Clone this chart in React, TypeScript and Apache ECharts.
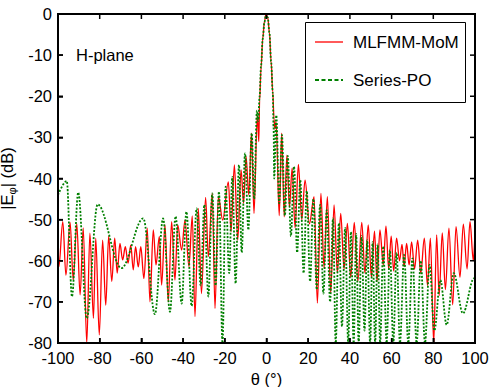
import React, { useEffect, useRef } from "react";
import * as echarts from "echarts";

const xTicks = [-100, -80, -60, -40, -20, 0, 20, 40, 60, 80, 100];
const yTicks = [-80, -70, -60, -50, -40, -30, -20, -10, 0];

// MLFMM-MoM (red) : theta (deg), |E| (dB)
const momTheta = [
  -100, -99.6, -97.7, -96.2, -94.2, -92.7, -91.0, -89.4, -87.9, -86.2, -84.7, -83.0, -81.9, -80.2,
  -78.6, -77.1, -75.7, -74.2, -72.8, -71.6, -70.3, -69.0, -67.7, -66.4, -65.1, -63.9, -62.8, -61.5,
  -60.3, -58.8, -57.2, -55.9, -54.3, -53.0, -51.4, -50.3, -48.7, -47.1, -45.5, -43.9, -42.6, -40.7,
  -39.1, -37.2, -35.6, -34.3, -32.7, -31.2, -29.2, -27.9, -26.0, -24.7, -23.1, -21.0, -18.3, -17.0,
  -15.4, -13.8, -12.2, -11.0, -9.8, -8.5, -7.2, -6.0, -4.4, -3.7, -3.3, -2.6, -1.8, -1.0, -0.2, 0.6,
  1.4, 2.2, 3.0, 3.6, 4.0, 4.6, 6.1, 7.3, 8.5, 9.8, 11.0, 12.3, 13.7, 15.3, 16.9, 18.5, 20.6, 22.8,
  24.4, 26.1, 27.6, 29.2, 30.8, 32.4, 34.0, 35.6, 37.2, 38.8, 40.4, 42.1, 43.8, 45.7, 47.2, 48.8,
  50.3, 51.8, 53.0, 54.4, 56.0, 57.3, 58.6, 59.8, 61.0, 62.4, 63.8, 65.0, 66.0, 67.2, 68.4, 69.6,
  71.0, 72.5, 74.0, 75.7, 77.2, 78.6, 80.2, 81.6, 82.8, 84.3, 85.8, 87.5, 89.3, 90.9, 92.8, 94.4,
  96.2, 97.6, 99.2, 100,
];
const momDb = [
  -55, -61.5, -50.5, -63.5, -50.7, -64.7, -51, -68.3, -52, -80, -53.3, -74, -54.5, -78,
  -55, -70.8, -54, -65, -54.5, -63, -55.8, -59.8, -56.6, -60.6, -56.2, -62.2, -56.6, -61.5,
  -56.6, -64.3, -52.1, -70, -52.5, -61, -54.1, -65.9, -51.3, -70, -50.5, -64.7, -51.3, -57.4,
  -50.1, -61.4, -49.1, -73.6, -47.3, -68, -44.6, -59, -43.6, -71.6, -44.4, -50.1, -40.8, -52.9,
  -36.7, -55, -37.9, -46, -34.7, -44, -29, -48.5, -24.6, -31, -21, -13, -6, -1.8, 0, -0.8,
  -4.5, -11.5, -19, -25.5, -28, -26.2, -49, -29, -49.3, -34.3, -47, -37.5, -52, -36.6, -50, -40.4, -51, -44.4,
  -70.3, -43.6, -61.8, -44.4, -67.9, -46.4, -63, -48.5, -62, -50.9, -64, -50.7, -65, -50.7, -63, -51.3,
  -64, -52.8, -65, -52.5, -61, -51.6, -62, -54, -62.5, -54.5, -60, -56, -61.4, -55.8, -61, -55.4,
  -62, -55, -63, -54.5, -66, -54.5, -80, -53.7, -68.5, -53.2, -67, -52.1, -70.7, -51.7, -64, -51.1,
  -62, -50.5, -60, -53,
];

// Series-PO (green) : theta (deg), |E| (dB)
const poTheta = [
  -100, -95.8, -93.3, -90.3, -86.2, -81.0, -69.6, -59.1, -53.5, -49.6, -46.3, -43.6, -40.7, -38.4,
  -35.9, -33.5, -31.6, -29.8, -27.9, -26.0, -24.4, -22.8, -21.1, -19.6, -17.9, -16.4, -14.8, -13.2,
  -11.9, -10.3, -8.7, -7.1, -5.9, -4.6, -4.0, -3.3, -2.6, -1.8, -1.0, -0.2, 0.6, 1.4, 2.2, 3.0, 3.4,
  3.7, 4.7, 6.1, 7.4, 8.8, 10.2, 11.7, 13.2, 14.7, 16.2, 17.8, 19.3, 20.9, 22.5, 24.1, 25.7, 27.3,
  28.9, 30.5, 31.9, 33.2, 34.7, 36.2, 37.7, 39.2, 40.5, 41.8, 43.0, 44.2, 45.6, 47.0, 48.3, 49.7,
  50.9, 52.1, 53.3, 54.5, 56.0, 57.6, 59.2, 60.8, 62.4, 64.0, 66.0, 68.0, 70.0, 72.0, 74.0, 76.0,
  78.2, 80.5, 83.4, 86.4, 89.8, 94.2, 99.5, 100,
];
const poDb = [
  -44, -40.6, -68.7, -43.4, -74, -46.3, -61.8, -49.7, -73, -49.7, -72.4, -49.2, -70.4, -48.1,
  -71, -47.3, -66, -46.4, -68.7, -43.6, -66, -43.2, -80, -42, -63, -39.6, -65.5, -36.7,
  -58, -33.9, -52.5, -29, -45, -23.5, -26, -20, -12.5, -6, -2, 0, -0.8, -4.5, -11.5, -19, -28,
  -40, -24.6, -46, -29.4, -49, -34.5, -54, -37.1, -58, -40.4, -63, -43, -65, -45, -67, -46.4, -68,
  -47.7, -70, -49.7, -80, -50.9, -76, -52, -80, -53, -80, -53.5, -80, -54, -77, -55, -80,
  -55.5, -80, -56, -80, -56.5, -80, -57.4, -80, -58, -80, -58.6, -80, -59.4, -80, -60, -80,
  -61, -77, -64.7, -75.6, -63, -72.8, -64.3, -64,
];

const momData = momTheta.map((t, i) => [t, momDb[i]]);
const poData = poTheta.map((t, i) => [t, poDb[i]]);

const FONT = "Liberation Sans, Arial, Helvetica, sans-serif";
const W = 492;
const H = 387;
const G = { left: 58, right: 17, top: 14, bottom: 44 };

export default function App() {
  const ref = useRef<HTMLDivElement>(null);
  useEffect(() => {
    if (!ref.current) return;
    const chart = echarts.init(ref.current, undefined, { renderer: "svg" });

    // frame bars and inside ticks as filled rectangles, each placed with left/top
    const x0 = G.left, y0 = G.top, x1 = W - G.right, y1 = H - G.bottom;
    const bar = (l: number, t: number, w: number, h: number) => ({
      type: "rect", left: l, top: t, z: 100,
      shape: { x: 0, y: 0, width: w, height: h },
      style: { fill: "#000" },
    });
    const frame: any[] = [
      bar(x0 - 1, y0 - 1, x1 - x0 + 2, 2),
      bar(x0 - 1, y1 - 1, x1 - x0 + 2, 2),
      bar(x0 - 1, y0 - 1, 2, y1 - y0 + 2),
      bar(x1 - 1, y0 - 1, 2, y1 - y0 + 2),
    ];
    xTicks.forEach((v) => {
      const x = x0 + ((v + 100) / 200) * (x1 - x0);
      frame.push(bar(x - 0.75, y1 - 5, 1.5, 5));
      frame.push(bar(x - 0.75, y0, 1.5, 5));
    });
    yTicks.forEach((v) => {
      const y = y0 + (-v / 80) * (y1 - y0);
      frame.push(bar(x0, y - 0.75, 5, 1.5));
      frame.push(bar(x1 - 5, y - 0.75, 5, 1.5));
    });

    chart.setOption({
      animation: false,
      backgroundColor: "#fff",
      grid: { ...G, containLabel: false, outerBoundsMode: "none" },
      xAxis: {
        type: "value", min: -100, max: 100, interval: 20, position: "bottom",
        axisLine: { show: true, onZero: false, lineStyle: { color: "#000", width: 2 } },
        axisTick: { show: true, inside: true, length: 5, lineStyle: { color: "#000", width: 1.5 } },
        splitLine: { show: false },
        axisLabel: { color: "#000", fontSize: 16.5, fontFamily: FONT, margin: 6,
          formatter: (v: number) => (xTicks.includes(v) ? String(v) : "") },
        name: "θ (°)", nameLocation: "middle", nameGap: 27,
        nameTextStyle: { color: "#000", fontSize: 16.5, fontFamily: FONT },
      },
      yAxis: {
        type: "value", min: -80, max: 0, interval: 10, position: "left",
        axisLine: { show: true, onZero: false, lineStyle: { color: "#000", width: 2 } },
        axisTick: { show: true, inside: true, length: 5, lineStyle: { color: "#000", width: 1.5 } },
        splitLine: { show: false },
        axisLabel: { color: "#000", fontSize: 16.5, fontFamily: FONT, margin: 6,
          formatter: (v: number) => (yTicks.includes(v) ? String(v) : "") },
        name: "{a||E}{s|φ}{a|| (dB)}", nameLocation: "middle", nameGap: 30, nameRotate: 90,
        nameTextStyle: {
          color: "#000", fontSize: 16.5, fontFamily: FONT,
          rich: {
            a: { fontSize: 16.5, fontFamily: FONT, color: "#000" },
            s: { fontSize: 11, fontFamily: FONT, color: "#000", padding: [9, 0, 0, 0] },
          },
        },
      },
      series: [
        {
          name: "MLFMM-MoM", type: "line", data: momData, showSymbol: false, symbol: "none",
          smooth: 0.35, smoothMonotone: "x",
          lineStyle: { color: "#ff0000", width: 1.3 }, z: 3,
          markLine: {
            silent: true, symbol: ["none", "none"], label: { show: false },
            lineStyle: { color: "#000", width: 2, type: "solid" },
            emphasis: { disabled: true },
            data: [{ xAxis: -100 }, { xAxis: 100 }, { yAxis: 0 }, { yAxis: -80 }],
          },
        },
        {
          name: "Series-PO", type: "line", data: poData, showSymbol: false, symbol: "none",
          smooth: 0.35, smoothMonotone: "x",
          lineStyle: { color: "#008000", width: 1.8, type: [2, 1.6] }, z: 4,
        },
      ],
      graphic: [
        ...frame,
        {
          type: "text", left: 76, top: 46,
          style: { text: "H-plane", fill: "#000", fontSize: 16.5, fontFamily: FONT },
        },
        {
          type: "group", left: 305, top: 22, z: 100,
          children: [
            { type: "rect", shape: { x: 0.5, y: 0.5, width: 160, height: 80 },
              style: { fill: "#fff", stroke: "#000", lineWidth: 1 } },
            { type: "line", shape: { x1: 10, y1: 20, x2: 38, y2: 20 },
              style: { stroke: "#ff0000", lineWidth: 1.3 } },
            { type: "text", x: 48, y: 20,
              style: { text: "MLFMM-MoM", fill: "#000", fontSize: 17, fontFamily: FONT, verticalAlign: "middle" } },
            { type: "line", shape: { x1: 10, y1: 58, x2: 38, y2: 58 },
              style: { stroke: "#008000", lineWidth: 1.8, lineDash: [4, 2.5] } },
            { type: "text", x: 48, y: 58,
              style: { text: "Series-PO", fill: "#000", fontSize: 17, fontFamily: FONT, verticalAlign: "middle" } },
          ],
        },
      ],
    });
    return () => chart.dispose();
  }, []);
  return <div ref={ref} style={{ width: W, height: H, position: "absolute", left: 0, top: 0 }} />;
}
